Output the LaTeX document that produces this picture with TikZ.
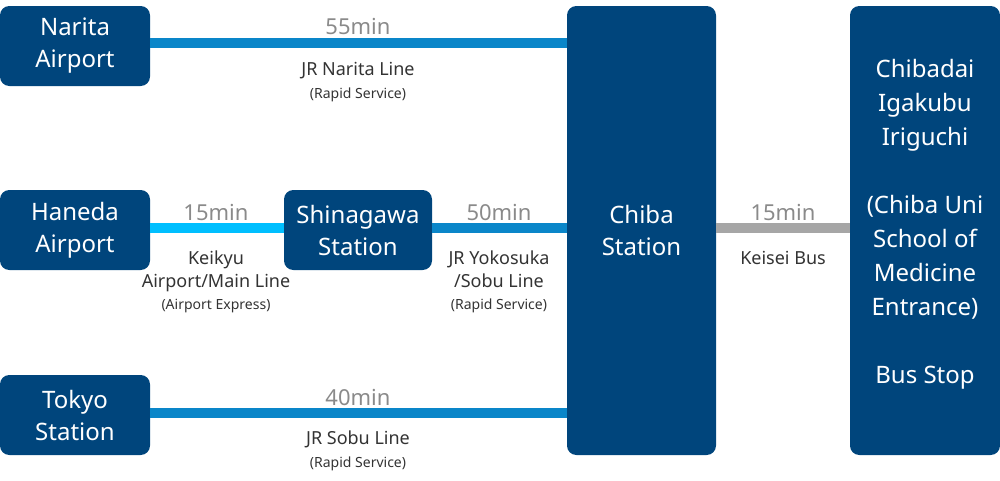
\documentclass[tikz,border=0pt]{standalone}
\usepackage{fontspec}
\setmainfont{Noto Sans}
\definecolor{dk}{HTML}{00457C}
\definecolor{mid}{HTML}{0A86C9}
\definecolor{cy}{HTML}{00BFFF}
\definecolor{gr}{HTML}{A6A6A6}
\definecolor{tm}{HTML}{8A8A8A}
\definecolor{tx}{HTML}{333333}
\newcommand\smalltxt{\fontsize{10.5}{13}\selectfont}
\begin{document}
\begin{tikzpicture}[x=0.75pt,y=-0.75pt,
 box/.style={fill=dk,rounded corners=7pt,text=white,align=center,font=\fontsize{18}{24}\selectfont,inner sep=0},
 ln/.style={line width=7.5pt},
 tmn/.style={text=tm,font=\fontsize{16.5}{20}\selectfont},
 lab/.style={text=tx,align=center,font=\fontsize{13.5}{17}\selectfont}]
\useasboundingbox (0,0) rectangle (1000,480);
\node[box,minimum width=112.5pt,minimum height=60pt] (nar) at (75,46) {Narita\\Airport};
\node[box,minimum width=112.5pt,minimum height=60pt] (han) at (75,230) {Haneda\\Airport};
\node[box,minimum width=112.5pt,minimum height=60pt] (tok) at (75,415) {Tokyo\\Station};
\node[box,minimum width=111pt,minimum height=60pt] (shi) at (358,230) {Shinagawa\\Station};
\node[box,minimum width=111.75pt,minimum height=336.75pt] (chi) at (641.5,230.5) {};
\node[text=white,align=center,font=\fontsize{18}{24}\selectfont] at (641.5,230) {Chiba\\Station};
\node[box,minimum width=112.5pt,minimum height=336.75pt] (rt) at (925,230.5) {};
\node[text=white,align=center,font=\fontsize{18}{25.5}\selectfont] at (925,224) {Chibadai\\Igakubu\\Iriguchi\\[25.5pt](Chiba Uni\\School of\\Medicine\\Entrance)\\[25.5pt]Bus Stop};
\draw[ln,mid] (nar.east|-0,43) -- (chi.west|-0,43);
\draw[ln,cy] (han.east|-0,228) -- (shi.west|-0,228);
\draw[ln,mid] (shi.east|-0,228) -- (chi.west|-0,228);
\draw[ln,mid] (tok.east|-0,413) -- (chi.west|-0,413);
\draw[ln,gr] (chi.east|-0,228) -- (rt.west|-0,228);
\node[tmn] at (358,26) {55min};
\node[tmn] at (216,212) {15min};
\node[tmn] at (499,212) {50min};
\node[tmn] at (783,212) {15min};
\node[tmn] at (358,397) {40min};
\node[lab] at (358,82) {\textbf{JR} Narita Line\\{\smalltxt(Rapid Service)}};
\node[lab] at (216,282) {\textbf{Keikyu}\\Airport/Main Line\\{\smalltxt(Airport Express)}};
\node[lab] at (499,282) {\textbf{JR} Yokosuka\\/Sobu Line\\{\smalltxt(Rapid Service)}};
\node[lab] at (783,258) {Keisei Bus};
\node[lab] at (358,451) {\textbf{JR} Sobu Line\\{\smalltxt(Rapid Service)}};
\end{tikzpicture}
\end{document}
